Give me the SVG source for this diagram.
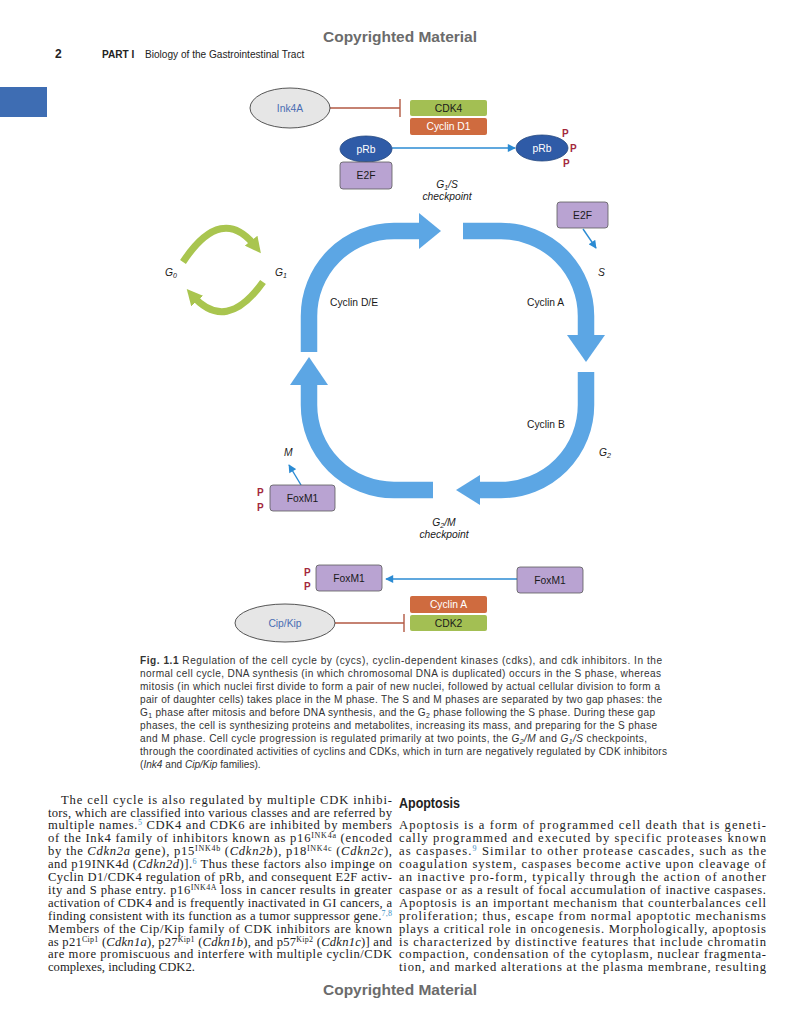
<svg xmlns="http://www.w3.org/2000/svg" width="800" height="1024" viewBox="0 0 800 1024">
<defs>
<style>
.sans{font-family:"Liberation Sans",Arial,sans-serif}
.lbl{font-family:"Liberation Sans",Arial,sans-serif;font-size:10.3px;fill:#1a1a1a}
.it{font-style:italic}
.wt{fill:#ffffff}
.p{font-family:"Liberation Sans",Arial,sans-serif;font-size:10px;font-weight:bold;fill:#a3283c}
.box{stroke:#5a5a5a;stroke-width:0.8}
.purple{fill:#b9a3d2}
.green{fill:#a3bf53}
.orange{fill:#cf6b3f}
.inh{stroke:#b35a44;stroke-width:1.4;fill:none}
.barr{stroke:#2b8bd3;stroke-width:1.4;fill:none}
.cyc{stroke:#5ca6e4;stroke-width:16.5;fill:none}
.cychead{fill:#5ca6e4}
.garc{stroke:#a9c54f;stroke-width:7;fill:none}
.cap{font-family:"Liberation Sans",Arial,sans-serif;font-size:10.1px;fill:#333}
.body{font-family:"Liberation Serif","Times New Roman",serif;font-size:12.6px;fill:#222}
.sup{font-size:8px}
.ref{fill:#3b8fc4}
</style>
<marker id="bArrow" viewBox="0 0 10 10" refX="9" refY="5" markerWidth="9" markerHeight="8" markerUnits="userSpaceOnUse" orient="auto">
<path d="M0 0 L10 5 L0 10 z" fill="#2b8bd3"/>
</marker>
<marker id="gArrow" viewBox="0 0 10 10" refX="5" refY="5" markerWidth="16" markerHeight="16" markerUnits="userSpaceOnUse" orient="auto">
<path d="M0 0 L10 5 L0 10 z" fill="#a9c54f"/>
</marker>
</defs>
<rect width="800" height="1024" fill="#ffffff"/>

<!-- header -->
<g id="header">
<text x="400" y="42" text-anchor="middle" class="sans" font-size="15.5" font-weight="bold" fill="#6b6b6b" textLength="154" lengthAdjust="spacingAndGlyphs">Copyrighted Material</text>
<text x="55" y="58" class="sans" font-size="12" font-weight="bold" fill="#222">2</text>
<text x="102" y="58" class="sans" font-size="10.1" fill="#222"><tspan font-weight="bold">PART I</tspan><tspan x="145">Biology of the Gastrointestinal Tract</tspan></text>
<rect x="0" y="87" width="47" height="30" fill="#3e6db3"/>
</g>

<!-- connectors -->
<g id="connectors">
<path class="inh" d="M330 108 L400 108 M400 99 L400 117"/>
<path class="barr" d="M392 148 L515 148" marker-end="url(#bArrow)"/>
<path class="barr" d="M583 229 L596 248" marker-end="url(#bArrow)"/>
<path class="barr" d="M301 485 L289 465" marker-end="url(#bArrow)"/>
<path class="barr" d="M517 579 L386 579" marker-end="url(#bArrow)"/>
<path class="inh" d="M335 623 L404 623 M404 614 L404 632"/>
<path class="garc" d="M183 262 Q222 203 256 247" marker-end="url(#gArrow)"/>
<path class="garc" d="M263 282 Q226 334 192 295" marker-end="url(#gArrow)"/>
<g id="cycle">
<path class="cyc" d="M309 352 L309 316 A85 85 0 0 1 394 231 L421 231"/>
<polygon class="cychead" points="419,213 441,231 419,249"/>
<path class="cyc" d="M463 231 L501 231 A85 85 0 0 1 586 316 L586 337"/>
<polygon class="cychead" points="567,335 605,335 586,362"/>
<path class="cyc" d="M586 372 L586 405 A85 85 0 0 1 501 490 L478 490"/>
<polygon class="cychead" points="480,475 480,505 456,490"/>
<path class="cyc" d="M433 490 L394 490 A85 85 0 0 1 309 405 L309 383"/>
<polygon class="cychead" points="290,385 328,385 309,357"/>
</g>
</g>

<!-- nodes -->
<g id="ink4a">
<ellipse cx="290" cy="108" rx="40" ry="20" fill="#e6e6e6" stroke="#444" stroke-width="0.9"/>
<text x="290" y="112" text-anchor="middle" class="lbl" style="fill:#4a6db3">Ink4A</text>
</g>
<g id="cdk4">
<rect x="410" y="100" width="77" height="16" rx="2" class="green"/>
<text x="448.5" y="112" text-anchor="middle" class="lbl">CDK4</text>
</g>
<g id="cyclinD1">
<rect x="410" y="118" width="77" height="17" rx="2" class="orange"/>
<text x="448.5" y="130" text-anchor="middle" class="lbl wt">Cyclin D1</text>
</g>
<g id="pRb-left">
<ellipse cx="366" cy="149" rx="26" ry="13" fill="#2f5ba7" stroke="#24477f" stroke-width="0.8"/>
<text x="366" y="153" text-anchor="middle" class="lbl wt">pRb</text>
</g>
<g id="e2f-left">
<rect x="340" y="162" width="52" height="27" rx="3" class="purple box"/>
<text x="366" y="179" text-anchor="middle" class="lbl">E2F</text>
</g>
<g id="pRb-right">
<ellipse cx="542" cy="148" rx="26" ry="13" fill="#2f5ba7" stroke="#24477f" stroke-width="0.8"/>
<text x="542" y="152" text-anchor="middle" class="lbl wt">pRb</text>
<text x="562" y="137" class="p">P</text>
<text x="570" y="152" class="p">P</text>
<text x="563" y="167" class="p">P</text>
</g>
<g id="g1s">
<text x="447" y="188" text-anchor="middle" class="lbl it">G<tspan font-size="7" dy="2">1</tspan><tspan dy="-2">/S</tspan></text>
<text x="447" y="200" text-anchor="middle" class="lbl it">checkpoint</text>
</g>
<g id="e2f-right">
<rect x="557" y="202" width="51" height="26" rx="3" class="purple box"/>
<text x="582.5" y="219" text-anchor="middle" class="lbl">E2F</text>
</g>
<g id="phase-labels">
<text x="165" y="276" class="lbl it">G<tspan font-size="7" dy="2">0</tspan></text>
<text x="275" y="276" class="lbl it">G<tspan font-size="7" dy="2">1</tspan></text>
<text x="598" y="276" class="lbl it">S</text>
<text x="284" y="456" class="lbl it">M</text>
<text x="599" y="456" class="lbl it">G<tspan font-size="7" dy="2">2</tspan></text>
</g>
<g id="cyclin-labels">
<text x="330" y="306" class="lbl">Cyclin D/E</text>
<text x="527" y="306" class="lbl">Cyclin A</text>
<text x="527" y="428" class="lbl">Cyclin B</text>
</g>
<g id="foxm1-mid">
<rect x="270" y="485" width="65" height="26" rx="3" class="purple box"/>
<text x="302.5" y="502" text-anchor="middle" class="lbl">FoxM1</text>
<text x="257" y="496" class="p">P</text>
<text x="257" y="511" class="p">P</text>
</g>
<g id="g2m">
<text x="444" y="526" text-anchor="middle" class="lbl it">G<tspan font-size="7" dy="2">2</tspan><tspan dy="-2">/M</tspan></text>
<text x="444" y="538" text-anchor="middle" class="lbl it">checkpoint</text>
</g>
<g id="foxm1-p">
<rect x="316" y="565" width="66" height="26" rx="3" class="purple box"/>
<text x="349" y="582" text-anchor="middle" class="lbl">FoxM1</text>
<text x="304" y="576" class="p">P</text>
<text x="304" y="590" class="p">P</text>
</g>
<g id="foxm1-right">
<rect x="517" y="567" width="66" height="26" rx="3" class="purple box"/>
<text x="550" y="584" text-anchor="middle" class="lbl">FoxM1</text>
</g>
<g id="cyclinA">
<rect x="410" y="596" width="77" height="17" rx="2" class="orange"/>
<text x="448.5" y="608" text-anchor="middle" class="lbl wt">Cyclin A</text>
</g>
<g id="cdk2">
<rect x="410" y="615" width="77" height="16" rx="2" class="green"/>
<text x="448.5" y="627" text-anchor="middle" class="lbl">CDK2</text>
</g>
<g id="cipkip">
<ellipse cx="285" cy="623" rx="50" ry="19" fill="#e6e6e6" stroke="#444" stroke-width="0.9"/>
<text x="285" y="627" text-anchor="middle" class="lbl" style="fill:#4a6db3">Cip/Kip</text>
</g>

<!-- caption -->
<g id="caption" class="cap">
<text x="140" y="664" textLength="522" lengthAdjust="spacing"><tspan font-weight="bold">Fig. 1.1</tspan> Regulation of the cell cycle by (cycs), cyclin-dependent kinases (cdks), and cdk inhibitors. In the</text>
<text x="140" y="677" textLength="521" lengthAdjust="spacing">normal cell cycle, DNA synthesis (in which chromosomal DNA is duplicated) occurs in the S phase, whereas</text>
<text x="140" y="690" textLength="520" lengthAdjust="spacing">mitosis (in which nuclei first divide to form a pair of new nuclei, followed by actual cellular division to form a</text>
<text x="140" y="703" textLength="522" lengthAdjust="spacing">pair of daughter cells) takes place in the M phase. The S and M phases are separated by two gap phases: the</text>
<text x="140" y="716" textLength="515" lengthAdjust="spacing">G<tspan font-size="7" dy="2">1</tspan><tspan dy="-2"> phase after mitosis and before DNA synthesis, and the G</tspan><tspan font-size="7" dy="2">2</tspan><tspan dy="-2"> phase following the S phase. During these gap</tspan></text>
<text x="140" y="729" textLength="517" lengthAdjust="spacing">phases, the cell is synthesizing proteins and metabolites, increasing its mass, and preparing for the S phase</text>
<text x="140" y="742" textLength="507" lengthAdjust="spacing">and M phase. Cell cycle progression is regulated primarily at two points, the <tspan font-style="italic">G</tspan><tspan font-style="italic" font-size="7" dy="2">2</tspan><tspan font-style="italic" dy="-2">/M</tspan> and <tspan font-style="italic">G</tspan><tspan font-style="italic" font-size="7" dy="2">1</tspan><tspan font-style="italic" dy="-2">/S</tspan> checkpoints,</text>
<text x="140" y="755" textLength="527" lengthAdjust="spacing">through the coordinated activities of cyclins and CDKs, which in turn are negatively regulated by CDK inhibitors</text>
<text x="140" y="768">(<tspan font-style="italic">Ink4</tspan> and <tspan font-style="italic">Cip/Kip</tspan> families).</text>
</g>

<!-- body left -->
<g id="body-left" class="body">
<text x="61" y="803.6" textLength="331" lengthAdjust="spacing">The cell cycle is also regulated by multiple CDK inhibi-</text>
<text x="48" y="816.5" textLength="344" lengthAdjust="spacing">tors, which are classified into various classes and are referred by</text>
<text x="48" y="829.4" textLength="344" lengthAdjust="spacing">multiple names.<tspan class="sup ref" dy="-4">5</tspan><tspan dy="4"> CDK4 and CDK6 are inhibited by members</tspan></text>
<text x="48" y="842.3" textLength="344" lengthAdjust="spacing">of the Ink4 family of inhibitors known as p16<tspan class="sup" dy="-4">INK4a</tspan><tspan dy="4"> (encoded</tspan></text>
<text x="48" y="855.2" textLength="344" lengthAdjust="spacing">by the <tspan font-style="italic">Cdkn2a</tspan> gene), p15<tspan class="sup" dy="-4">INK4b</tspan><tspan dy="4"> (</tspan><tspan font-style="italic">Cdkn2b</tspan>), p18<tspan class="sup" dy="-4">INK4c</tspan><tspan dy="4"> (</tspan><tspan font-style="italic">Cdkn2c</tspan>),</text>
<text x="48" y="868.1" textLength="344" lengthAdjust="spacing">and p19INK4d (<tspan font-style="italic">Cdkn2d</tspan>)].<tspan class="sup ref" dy="-4">6</tspan><tspan dy="4"> Thus these factors also impinge on</tspan></text>
<text x="48" y="881" textLength="344" lengthAdjust="spacing">Cyclin D1/CDK4 regulation of pRb, and consequent E2F activ-</text>
<text x="48" y="893.9" textLength="344" lengthAdjust="spacing">ity and S phase entry. p16<tspan class="sup" dy="-4">INK4A</tspan><tspan dy="4"> loss in cancer results in greater</tspan></text>
<text x="48" y="906.8" textLength="344" lengthAdjust="spacing">activation of CDK4 and is frequently inactivated in GI cancers, a</text>
<text x="48" y="919.7" textLength="344" lengthAdjust="spacing">finding consistent with its function as a tumor suppressor gene.<tspan class="sup ref" dy="-4">7,8</tspan></text>
<text x="48" y="932.6" textLength="344" lengthAdjust="spacing">Members of the Cip/Kip family of CDK inhibitors are known</text>
<text x="48" y="945.5" textLength="344" lengthAdjust="spacing">as p21<tspan class="sup" dy="-4">Cip1</tspan><tspan dy="4"> (</tspan><tspan font-style="italic">Cdkn1a</tspan>), p27<tspan class="sup" dy="-4">Kip1</tspan><tspan dy="4"> (</tspan><tspan font-style="italic">Cdkn1b</tspan>), and p57<tspan class="sup" dy="-4">Kip2</tspan><tspan dy="4"> (</tspan><tspan font-style="italic">Cdkn1c</tspan>)] and</text>
<text x="48" y="958.4" textLength="344" lengthAdjust="spacing">are more promiscuous and interfere with multiple cyclin/CDK</text>
<text x="48" y="971.3">complexes, including CDK2.</text>
</g>

<!-- body right -->
<g id="body-right" class="body">
<text x="399" y="808" class="sans" font-size="14" font-weight="bold" fill="#222" textLength="61" lengthAdjust="spacingAndGlyphs">Apoptosis</text>
<text x="399" y="829.4" textLength="367" lengthAdjust="spacing">Apoptosis is a form of programmed cell death that is geneti-</text>
<text x="399" y="842.3" textLength="367" lengthAdjust="spacing">cally programmed and executed by specific proteases known</text>
<text x="399" y="855.2" textLength="367" lengthAdjust="spacing">as caspases.<tspan class="sup ref" dy="-4">9</tspan><tspan dy="4"> Similar to other protease cascades, such as the</tspan></text>
<text x="399" y="868.1" textLength="367" lengthAdjust="spacing">coagulation system, caspases become active upon cleavage of</text>
<text x="399" y="881" textLength="367" lengthAdjust="spacing">an inactive pro-form, typically through the action of another</text>
<text x="399" y="893.9" textLength="367" lengthAdjust="spacing">caspase or as a result of focal accumulation of inactive caspases.</text>
<text x="399" y="906.8" textLength="367" lengthAdjust="spacing">Apoptosis is an important mechanism that counterbalances cell</text>
<text x="399" y="919.7" textLength="367" lengthAdjust="spacing">proliferation; thus, escape from normal apoptotic mechanisms</text>
<text x="399" y="932.6" textLength="367" lengthAdjust="spacing">plays a critical role in oncogenesis. Morphologically, apoptosis</text>
<text x="399" y="945.5" textLength="367" lengthAdjust="spacing">is characterized by distinctive features that include chromatin</text>
<text x="399" y="958.4" textLength="367" lengthAdjust="spacing">compaction, condensation of the cytoplasm, nuclear fragmenta-</text>
<text x="399" y="971.3" textLength="367" lengthAdjust="spacing">tion, and marked alterations at the plasma membrane, resulting</text>
</g>

<g id="footer">
<text x="400" y="995" text-anchor="middle" class="sans" font-size="15.5" font-weight="bold" fill="#6b6b6b" textLength="154" lengthAdjust="spacingAndGlyphs">Copyrighted Material</text>
</g>
</svg>
